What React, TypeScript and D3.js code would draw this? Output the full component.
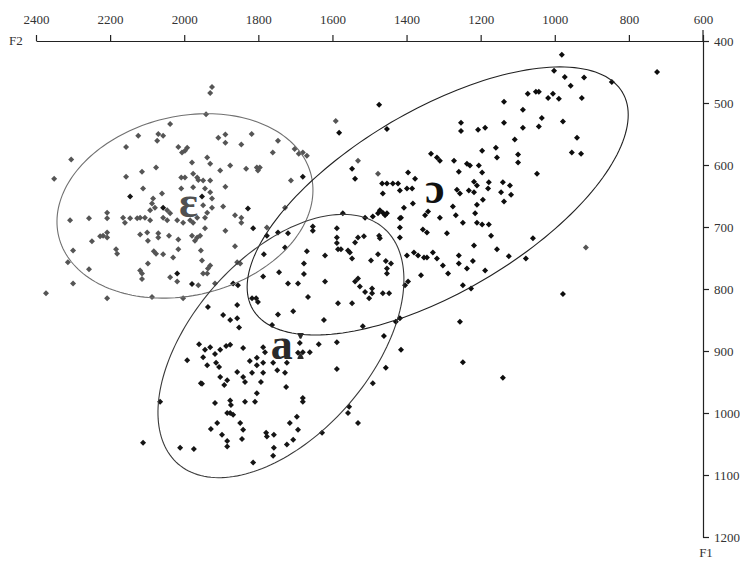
import React, { useEffect, useRef } from 'react';
import * as d3 from 'd3';

const W = 740;
const H = 565;

const f2Ticks = [2400, 2200, 2000, 1800, 1600, 1400, 1200, 1000, 800, 600];
const f1Ticks = [400, 500, 600, 700, 800, 900, 1000, 1100, 1200];

// [F2, F1]
const epsilonPoints: [number, number][] = [
  [1925,474],[1930,484],[1941,518],[2038,534],[2124,553],[2070,550],[2057,553],[2073,561],[2157,571],[2016,571],
  [1998,577],[2006,580],[1992,572],[1908,556],[1889,551],[1889,564],[1846,567],[1818,550],[1747,561],[1761,580],
  [1702,574],[1691,582],[1680,580],[1669,585],[2305,591],[1938,588],[1930,598],[1979,596],[1876,601],[1903,609],
  [1833,606],[1804,604],[1801,609],[1796,604],[2076,604],[2114,611],[2351,622],[2157,619],[2008,620],[1998,620],
  [1976,614],[1965,620],[1962,624],[1949,625],[1930,625],[1889,635],[1712,625],[2111,638],[2060,646],[2008,638],
  [1976,636],[1944,638],[1930,644],[1925,654],[2084,654],[2087,662],[2079,669],[2092,673],[2046,673],[2038,678],
  [1949,665],[1925,669],[1895,667],[1938,677],[1944,685],[1728,669],[2257,686],[2208,677],[2208,686],[2308,689],
  [2165,685],[2160,693],[2146,686],[2127,686],[2119,685],[2106,685],[2092,689],[2057,685],[2046,689],[2019,689],
  [2003,693],[1984,689],[1965,685],[1976,693],[1863,681],[1846,685],[1846,693],[1889,706],[1777,701],[2208,709],
  [2208,717],[2227,715],[2219,714],[2249,723],[2119,712],[2100,709],[2070,710],[2070,717],[2041,714],[2016,720],
  [1979,714],[1965,717],[1957,714],[1944,702],[2098,722],[2184,736],[2181,743],[2300,738],[2082,739],[2076,743],
  [2057,744],[2016,736],[1971,722],[1955,738],[2030,749],[2098,759],[1952,754],[1930,762],[1936,767],[1863,731],
  [2314,757],[1857,757],[1849,759],[2257,768],[2119,770],[2114,775],[2038,781],[1949,775],[1938,775],[2114,784],
  [2019,788],[1962,794],[2300,791],[2373,807],[2208,815],[2087,813],[2003,815],[1917,791],[1591,529],[1531,593],
  [1477,614],[916,733]
];

const openOPoints: [number, number][] = [
  [981,422],[1002,448],[973,458],[921,459],[957,472],[846,466],[724,450],[927,492],[989,493],[1005,485],
  [1018,492],[1051,482],[1043,482],[1073,485],[1137,498],[1086,511],[1035,524],[978,530],[1253,532],[1253,545],
  [1207,543],[1188,540],[1137,532],[1086,540],[1043,538],[940,556],[1108,559],[954,580],[929,582],[1196,577],
  [1159,572],[1156,588],[1099,583],[1099,596],[1334,582],[1318,588],[1310,593],[1272,593],[1237,598],[1229,601],
  [1205,601],[1259,611],[1196,612],[1048,614],[1453,542],[1474,503],[1582,548],[1547,606],[1539,622],[1466,630],
  [1453,630],[1437,630],[1423,630],[1464,646],[1396,612],[1418,641],[1399,638],[1385,638],[1377,622],[1383,662],
  [1407,669],[1264,640],[1256,646],[1232,641],[1218,627],[1210,633],[1218,644],[1178,628],[1180,638],[1140,628],
  [1121,633],[1145,644],[1118,648],[1137,659],[1194,656],[1210,664],[1215,678],[1275,667],[1267,681],[1248,693],
  [1210,693],[1196,696],[1178,696],[1172,714],[1218,730],[1156,736],[1124,747],[1078,751],[1059,718],[1259,746],
  [1259,759],[1221,755],[1237,767],[1188,770],[1248,794],[1226,799],[1291,710],[1288,775],[1342,675],[1350,681],
  [1310,685],[1356,704],[1345,709],[1329,741],[1318,751],[1302,762],[1345,749],[1380,741],[1369,746],[1353,749],
  [1361,778],[1491,683],[1477,678],[1464,677],[1458,681],[1418,686],[1418,701],[1418,717],[1399,746],[1512,685],
  [1472,673],[1453,678],[1415,685],[978,808],[1256,853],[1248,918],[1140,943],[1461,876],[1415,898],[1456,927],
  [1429,853],[1418,847]
];

const aPoints: [number, number][] = [
  [2146,651],[1952,651],[2057,669],[1828,670],[1680,619],[1814,702],[2019,775],[1979,792],[1785,744],[1747,709],
  [1720,710],[1777,714],[1728,733],[1653,699],[1653,706],[1588,702],[1588,717],[1588,726],[1572,678],[1669,739],
  [1620,746],[1585,736],[1577,736],[1553,741],[1547,751],[1677,759],[1677,776],[1744,773],[1787,780],[1720,791],
  [1693,791],[1620,788],[1868,791],[1855,794],[1806,815],[1801,821],[1817,815],[1666,813],[1585,823],[1547,823],
  [1747,841],[1706,836],[1623,850],[1518,860],[1857,826],[1936,829],[1895,842],[1876,850],[1857,847],[1852,862],
  [1763,858],[1637,889],[1588,886],[1531,717],[1515,715],[1539,725],[1474,714],[1472,718],[1558,738],[1477,744],
  [1496,754],[1456,755],[1442,759],[1453,767],[1453,775],[1539,788],[1531,783],[1526,796],[1512,805],[1493,799],
  [1501,815],[1493,807],[1464,807],[1447,807],[1396,788],[1404,794],[1787,894],[1782,902],[1688,887],[1693,903],
  [1680,902],[1661,902],[1588,929],[1960,889],[1944,898],[1949,910],[1930,894],[1917,905],[1903,898],[1887,892],
  [1876,890],[1992,915],[1938,923],[1914,919],[1906,926],[1857,934],[1841,942],[1836,950],[1817,935],[1804,923],
  [1787,919],[1787,935],[1760,919],[1749,931],[1728,935],[1723,919],[1841,895],[1823,916],[1804,911],[1903,942],
  [1884,947],[1892,955],[1955,952],[1804,968],[1725,958],[1491,952],[2065,982],[1917,984],[1876,980],[1874,987],
  [1884,1000],[1876,1000],[1868,1003],[1836,982],[1809,982],[1680,976],[1680,982],[1555,990],[1558,1000],[1849,1016],
  [1841,1027],[1911,1016],[1928,1026],[1898,1035],[1884,1045],[1884,1054],[1844,1042],[1779,1032],[1777,1038],[1758,1035],
  [1715,1016],[1696,1006],[1693,1027],[1723,1051],[1706,1043],[1758,1056],[1760,1069],[1628,1032],[1531,1016],[2111,1048],
  [2011,1056],[1974,1058],[1814,1080],[1952,953],[1793,950]
];

// label text split into base letter and optional length mark
const vowelLabels: [string, string][] = [['ɛ', ''], ['ɔ', ''], ['a', 'ː']];
const labelPositions: [number, number][] = [[1989, 664], [1324, 642], [1716, 894]];
const labelColors = ['#505050', '#111111', '#2a2a2a'];

const ellipseCenters: [number, number][] = [[1998, 666], [1316, 658], [1739, 892]];
const ellipseMajor: [number, number][] = [[-340.6, -49.5], [-498.7, -175.1], [-277.4, -190.2]];
const ellipseMinor: [number, number][] = [[-57.4, 140.3], [-125.3, 126.8], [-182.2, 94.4]];
const ellipseColors = ['#707070', '#222222', '#3a3a3a'];

const seriesList = [epsilonPoints, openOPoints, aPoints];
const seriesColors = ['#555555', '#0d0d0d', '#151515'];

const FONT = "'Liberation Serif', 'Times New Roman', 'DejaVu Serif', serif";

export default function App() {
  const xAxisRef = useRef<SVGGElement>(null);
  const yAxisRef = useRef<SVGGElement>(null);

  const x = d3.scaleLinear().domain([2400, 600]).range([36, 703]);
  const y = d3.scaleLinear().domain([400, 1200]).range([41, 537]);

  useEffect(() => {
    const gx = d3.select(xAxisRef.current as SVGGElement);
    gx.selectAll('*').remove();
    gx.call(
      d3.axisTop(x).tickValues(f2Ticks).tickSize(6).tickSizeOuter(0).tickPadding(11).tickFormat(d3.format('d')) as any
    );
    gx.attr('font-family', FONT);
    gx.select('.domain').attr('stroke', '#222').attr('stroke-width', 1.2);
    gx.selectAll('.tick line').attr('stroke', '#222').attr('stroke-width', 1.2);
    gx.selectAll('.tick text').attr('fill', '#333').attr('font-size', 13).attr('font-family', FONT);

    const gy = d3.select(yAxisRef.current as SVGGElement);
    gy.selectAll('*').remove();
    gy.call(
      d3.axisRight(y).tickValues(f1Ticks).tickSize(6).tickSizeOuter(0).tickPadding(5).tickFormat(d3.format('d')) as any
    );
    gy.attr('font-family', FONT);
    gy.select('.domain').attr('stroke', '#222').attr('stroke-width', 1.2);
    gy.selectAll('.tick line').attr('stroke', '#222').attr('stroke-width', 1.2);
    gy.selectAll('.tick text').attr('fill', '#333').attr('font-size', 13).attr('font-family', FONT);
  }, []);

  const marker = d3.symbol().type(d3.symbolSquare).size(18)() as string;

  const lineGen = d3.line<[number, number]>().x((d) => d[0]).y((d) => d[1]).curve(d3.curveLinearClosed);

  const ellipsePath = (i: number) => {
    const [cx, cy] = ellipseCenters[i];
    const [ux, uy] = ellipseMajor[i];
    const [vx, vy] = ellipseMinor[i];
    const pts: [number, number][] = d3.range(0, 360, 2).map((deg) => {
      const t = (deg * Math.PI) / 180;
      const f2 = cx + ux * Math.cos(t) + vx * Math.sin(t);
      const f1 = cy + uy * Math.cos(t) + vy * Math.sin(t);
      return [x(f2), y(f1)];
    });
    return lineGen(pts) as string;
  };

  return (
    <svg
      width={W}
      height={H}
      style={{ position: 'absolute', left: 0, top: 0, background: '#fff' }}
      xmlns="http://www.w3.org/2000/svg"
    >
      <rect x={0} y={0} width={W} height={H} fill="#fff" />
      <g ref={xAxisRef} transform={`translate(0, ${y(400)})`} />
      <g ref={yAxisRef} transform={`translate(${x(600)}, 0)`} />
      <line x1={x(600)} x2={x(600)} y1={y(400) - 11} y2={y(400)} stroke="#222" strokeWidth={1.2} />
      <text x={9} y={y(400) + 4} fontSize={13} fontFamily={FONT} fill="#333">F2</text>
      <text x={x(600) + 3} y={557} fontSize={13} fontFamily={FONT} fill="#333" textAnchor="middle">F1</text>

      {seriesList.map((pts, si) => (
        <g key={si}>
          {pts.map((d, i) => (
            <path
              key={i}
              d={marker}
              transform={`translate(${x(d[0])},${y(d[1])}) rotate(45)`}
              fill={seriesColors[si]}
            />
          ))}
        </g>
      ))}

      {ellipseCenters.map((_, i) => (
        <path key={i} d={ellipsePath(i)} fill="none" stroke={ellipseColors[i]} strokeWidth={1.1} />
      ))}

      {vowelLabels.map(([base, mark], i) => (
        <text
          key={i}
          x={x(labelPositions[i][0])}
          y={y(labelPositions[i][1])}
          dy="0.27em"
          textAnchor="middle"
          fontSize={44}
          fontWeight="bold"
          fontFamily={FONT}
          fill={labelColors[i]}
        >
          <tspan>{base}</tspan>
          {mark ? <tspan fontSize={56}>{mark}</tspan> : null}
        </text>
      ))}
    </svg>
  );
}
